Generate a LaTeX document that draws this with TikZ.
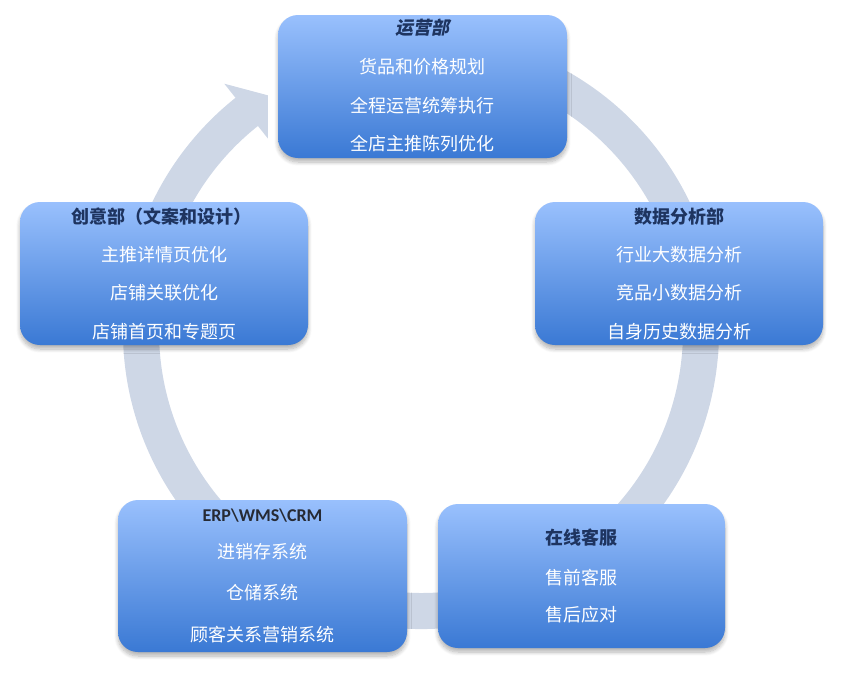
\documentclass[tikz,border=0pt]{standalone}
\usepackage{fontspec}
\setmainfont{Carlito}
\newfontfamily\cjk{Noto Sans CJK SC}
\newfontfamily\cjkit[FakeSlant=0.2]{Noto Sans CJK SC}
\usetikzlibrary{shadows.blur}
\definecolor{boxtop}{RGB}{153,192,253}
\definecolor{boxbot}{RGB}{58,121,212}
\definecolor{titlecol}{RGB}{30,52,96}
\definecolor{erpcol}{RGB}{38,42,52}
\definecolor{ringcol}{RGB}{206,215,230}
\tikzset{
  dept/.style={rectangle, rounded corners=20pt, inner sep=0pt, draw=none,
    top color=boxtop, bottom color=boxbot,
    blur shadow={shadow xshift=0pt, shadow yshift=-4pt, shadow opacity=30, shadow blur steps=8, shadow blur radius=4pt}},
  ttl/.style={text=titlecol, inner sep=0pt, font=\cjk\bfseries\fontsize{18pt}{20pt}\selectfont},
  item/.style={text=white, inner sep=0pt, font=\cjk\fontsize{18pt}{20pt}\selectfont},
}
\begin{document}
\begin{tikzpicture}[x=1pt,y=1pt]
\useasboundingbox (0,0) rectangle (866,-689);
% ring arrow
\coordinate (c) at (421,-331);
\begin{scope}[shift={(c)}]
\fill[ringcol] (80:298pt) arc[start angle=80, end angle=-231.5, radius=298pt]
  -- (128.5:316pt) -- (123:281pt) -- (128.5:246pt) -- (128.5:262pt)
  arc[start angle=-231.5, end angle=80, radius=262pt] -- cycle;
\end{scope}
% boxes
\node[dept, minimum width=289pt, minimum height=143pt] (ops) at (422.5,-86.5) {};
\node[dept, minimum width=288pt, minimum height=143pt] (data) at (679,-273.5) {};
\node[dept, minimum width=288pt, minimum height=143pt] (crea) at (164,-273.5) {};
\node[dept, minimum width=289pt, minimum height=152pt] (erp) at (262.5,-576) {};
\node[dept, minimum width=287pt, minimum height=144pt] (cs) at (581.5,-576) {};
% texts: ops
\node[ttl, font=\cjkit\bfseries\fontsize{18pt}{20pt}\selectfont] (ops-t) at (422.5,-28) {运营部};
\node[item] (ops-1) at (422.5,-67) {货品和价格规划};
\node[item] (ops-2) at (422.5,-105.5) {全程运营统筹执行};
\node[item] (ops-3) at (422.5,-144) {全店主推陈列优化};
% data
\node[ttl] (data-t) at (679,-217) {数据分析部};
\node[item] (data-1) at (679,-255) {行业大数据分析};
\node[item] (data-2) at (679,-293) {竞品小数据分析};
\node[item] (data-3) at (679,-332) {自身历史数据分析};
% creative
\node[ttl] (crea-t) at (161,-217) {创意部（文案和设计）};
\node[item] (crea-1) at (164,-255) {主推详情页优化};
\node[item] (crea-2) at (164,-293) {店铺关联优化};
\node[item] (crea-3) at (164,-332) {店铺首页和专题页};
% erp
\node[text=erpcol, inner sep=0pt, font=\bfseries\fontsize{18pt}{20pt}\selectfont] (erp-t) at (262.5,-516) {ERP\textbackslash WMS\textbackslash CRM};
\node[item] (erp-1) at (262.5,-552) {进销存系统};
\node[item] (erp-2) at (262.5,-593) {仓储系统};
\node[item] (erp-3) at (262.5,-635) {顾客关系营销系统};
% customer service
\node[ttl] (cs-t) at (581.5,-538) {在线客服};
\node[item] (cs-1) at (581.5,-578) {售前客服};
\node[item] (cs-2) at (581.5,-615) {售后应对};
\end{tikzpicture}
\end{document}
